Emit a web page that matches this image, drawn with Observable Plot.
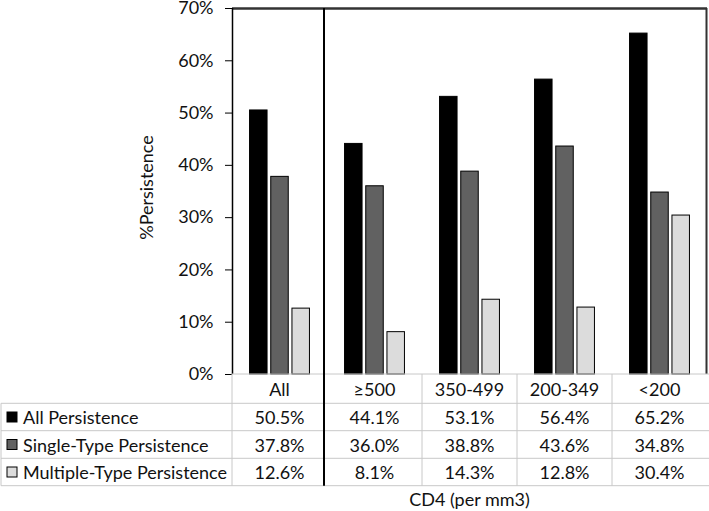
<!DOCTYPE html>
<html><head><meta charset="utf-8">
<script src="https://cdn.jsdelivr.net/npm/d3@7"></script>
<script src="https://cdn.jsdelivr.net/npm/@observablehq/plot@0.6"></script>
<style>body{margin:0;background:#fff} svg{font-family:Lato, sans-serif}</style>
</head><body><div id="chart"></div>
<script>
const categories = ["All", "≥500", "350-499", "200-349", "<200"];
const seriesNames = ["All Persistence", "Single-Type Persistence", "Multiple-Type Persistence"];
const allPersistence = [50.5, 44.1, 53.1, 56.4, 65.2];
const singleType = [37.8, 36.0, 38.8, 43.6, 34.8];
const multipleType = [12.6, 8.1, 14.3, 12.8, 30.4];
const yTicks = [0, 10, 20, 30, 40, 50, 60, 70];
const seriesColors = ["#000000", "#616161", "#dcdcdc"];
const xTitle = "CD4 (per mm3)";
const yTitle = "%Persistence";

const seriesValues = [allPersistence, singleType, multipleType];
const W = 709, H = 511, mL = 232, mR = 2, mT = 8, mB = 137;
const band = (W - mL - mR) / categories.length;
const barW = 17.5, gap = 21.2;
const inset = (band - barW) / 2;
const FS = 18;
const TXT = "#111";

const barMarks = seriesValues.map((vals, i) =>
  Plot.barY(categories.map((c, j) => ({cat: c, v: vals[j], s: seriesNames[i]})), {
    x: "cat", y: "v", fill: seriesColors[i], stroke: "#000", strokeWidth: 1,
    insetLeft: inset, insetRight: inset, dx: (i - 1) * gap
  })
);

const plot = Plot.plot({
  width: W, height: H, marginLeft: mL, marginRight: mR, marginTop: mT, marginBottom: mB,
  style: {fontFamily: "Lato, sans-serif", fontSize: FS + "px", color: TXT, background: "#fff", overflow: "visible"},
  x: {domain: categories, padding: 0, axis: null},
  y: {domain: [0, 70], axis: null},
  marks: [
    ...barMarks,
    Plot.axisY({ticks: yTicks, tickFormat: d => d + "%", tickSize: 7, tickPadding: 12, label: null, fontSize: FS, stroke: "#000", fill: TXT}),
    Plot.ruleY([70], {stroke: "#333", strokeWidth: 2.5}),
    Plot.ruleX([categories[0]], {y1: 0, y2: 70, dx: -band / 2, stroke: "#000", strokeWidth: 1.5}),
    Plot.ruleX([categories[categories.length - 1]], {y1: 0, y2: 70, dx: band / 2 - 1, stroke: "#333", strokeWidth: 2}),
    Plot.text([yTitle], {frameAnchor: "left", textAnchor: "middle", rotate: -90, dx: -85, dy: -4, fontSize: FS, fill: TXT})
  ]
});
document.getElementById("chart").appendChild(plot);

// data table below the chart, positioned with the plot's own x scale
const xs = plot.scale("x");
const svg = d3.select(plot);
const g = svg.append("g").attr("text-anchor", "start");
const grid = "#c8c8c8";
const y0 = H - mB;                     // 0% baseline
const rowTop = [y0, y0 + 29.3, y0 + 56.7, y0 + 84.3];
const rowBot = y0 + 111.7;
const colStart = c => xs.apply(c);
const right = W;

g.append("line").attr("x1", mL).attr("x2", right).attr("y1", y0).attr("y2", y0).attr("stroke", grid);
rowTop.slice(1).concat([rowBot]).forEach(y => {
  g.append("line").attr("x1", 1).attr("x2", right).attr("y1", y).attr("y2", y).attr("stroke", grid);
});
g.append("line").attr("x1", 1).attr("x2", 1).attr("y1", rowTop[1]).attr("y2", rowBot).attr("stroke", grid);
g.append("line").attr("x1", mL).attr("x2", mL).attr("y1", y0).attr("y2", rowBot).attr("stroke", grid);
categories.slice(2).forEach(c => {
  const x = colStart(c);
  g.append("line").attr("x1", x).attr("x2", x).attr("y1", y0).attr("y2", rowBot).attr("stroke", grid);
});
const sepX = colStart(categories[1]) - 3;
g.append("line").attr("x1", sepX).attr("x2", sepX).attr("y1", mT).attr("y2", rowBot).attr("stroke", "#000").attr("stroke-width", 2);

categories.forEach(c => {
  g.append("text").attr("x", colStart(c) + xs.bandwidth / 2).attr("y", (rowTop[0] + rowTop[1]) / 2)
    .attr("text-anchor", "middle").attr("dominant-baseline", "central")
    .attr("font-size", FS).attr("fill", TXT).text(c);
});
seriesValues.forEach((vals, i) => {
  const yTop = rowTop[i + 1], yB = i + 2 < rowTop.length ? rowTop[i + 2] : rowBot;
  const ym = (yTop + yB) / 2;
  g.append("rect").attr("x", 7).attr("y", ym - 5).attr("width", 10).attr("height", 10)
    .attr("fill", seriesColors[i]).attr("stroke", "#000").attr("stroke-width", 1);
  g.append("text").attr("x", 23).attr("y", ym).attr("text-anchor", "start").attr("dominant-baseline", "central")
    .attr("font-size", FS).attr("fill", TXT).text(seriesNames[i]);
  vals.forEach((v, j) => {
    g.append("text").attr("x", colStart(categories[j]) + xs.bandwidth / 2).attr("y", ym)
      .attr("text-anchor", "middle").attr("dominant-baseline", "central")
      .attr("font-size", FS).attr("fill", TXT).text(v.toFixed(1) + "%");
  });
});
g.append("text").attr("x", mL + (W - mL - mR) / 2).attr("y", 499).attr("text-anchor", "middle")
  .attr("dominant-baseline", "central").attr("font-size", FS).attr("fill", TXT).text(xTitle);
</script>
</body></html>
